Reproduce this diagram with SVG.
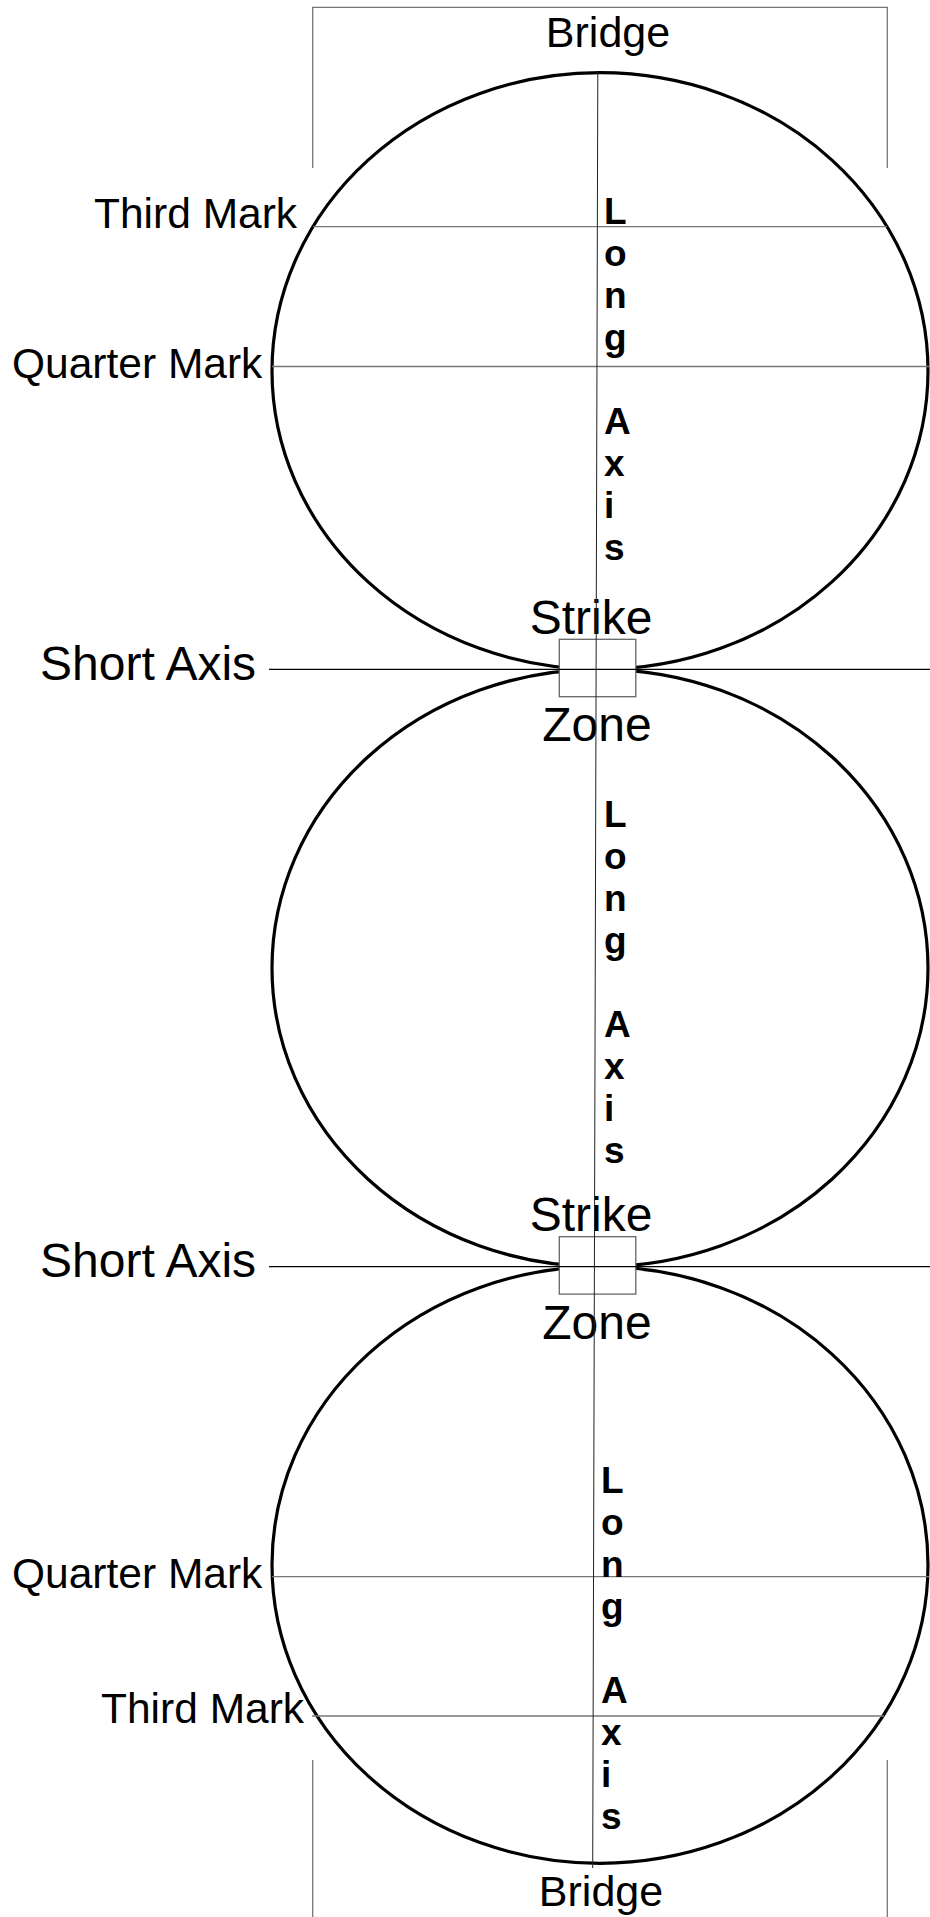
<svg xmlns="http://www.w3.org/2000/svg" width="930" height="1917" viewBox="0 0 930 1917">
  <style>
    .body { fill: none; stroke: #000; stroke-width: 3.2; }
    .mark { stroke: #777; stroke-width: 1.3; fill: none; }
    .axis { stroke: #000; stroke-width: 1.2; fill: none; }
    .long { stroke: #222; stroke-width: 1; fill: none; }
    .zone { fill: #fff; stroke: #666; stroke-width: 1.3; }
    .lbl { font-family: "Liberation Sans", Arial, sans-serif; fill: #000; }
    .big { font-size: 48px; }
    .mid { font-size: 42.5px; }
    .ltr { font-family: "Liberation Sans", Arial, sans-serif; font-weight: bold; font-size: 37px; fill: #000; }
  </style>

  <!-- three stacked ellipses -->
  <g id="ellipse-top"><ellipse class="body" cx="600" cy="371" rx="328" ry="298.3"/></g>
  <g id="ellipse-middle"><ellipse class="body" cx="600" cy="968" rx="328" ry="298.7"/></g>
  <g id="ellipse-bottom"><ellipse class="body" cx="600" cy="1565" rx="328" ry="298.3"/></g>

  <!-- strike zones at the junctions -->
  <g id="strike-zone-1">
    <rect class="zone" x="559.3" y="639.3" width="76.5" height="57.4"/>
    <text class="lbl big" x="591" y="634" text-anchor="middle">Strike</text>
    <text class="lbl big" x="597" y="741" text-anchor="middle">Zone</text>
  </g>
  <g id="strike-zone-2">
    <rect class="zone" x="559.3" y="1236.7" width="76.5" height="57.4"/>
    <text class="lbl big" x="591" y="1231" text-anchor="middle">Strike</text>
    <text class="lbl big" x="597" y="1339" text-anchor="middle">Zone</text>
  </g>

  <!-- reference lines -->
  <g id="lines">
    <!-- bridge brackets -->
    <path class="mark" d="M312.7 168 V7.3 H887.3 V168"/>
    <path class="mark" d="M312.7 1760 V1917 M887.3 1760 V1917"/>
    <!-- third and quarter marks -->
    <line class="mark" x1="313" y1="226.7" x2="887" y2="226.7"/>
    <line class="mark" x1="272" y1="366.5" x2="929" y2="366.5"/>
    <line class="mark" x1="272" y1="1576.7" x2="929" y2="1576.7"/>
    <line class="mark" x1="312" y1="1716" x2="884" y2="1716"/>
    <!-- short axes -->
    <line class="axis" x1="269" y1="669.3" x2="930" y2="669.3"/>
    <line class="axis" x1="269" y1="1266.7" x2="930" y2="1266.7"/>
    <!-- long axis -->
    <line class="long" x1="597.8" y1="72" x2="592.7" y2="1868"/>
  </g>

  <!-- side labels -->
  <g id="label-bridge-top"><text class="lbl" font-size="43" x="608" y="46.7" text-anchor="middle">Bridge</text></g>
  <g id="label-third-top"><text class="lbl mid" x="94" y="228">Third Mark</text></g>
  <g id="label-quarter-top"><text class="lbl mid" x="12" y="378">Quarter Mark</text></g>
  <g id="label-short-1"><text class="lbl big" x="40" y="680">Short Axis</text></g>
  <g id="label-short-2"><text class="lbl big" x="40" y="1277">Short Axis</text></g>
  <g id="label-quarter-bottom"><text class="lbl mid" x="12" y="1588">Quarter Mark</text></g>
  <g id="label-third-bottom"><text class="lbl mid" x="101" y="1723">Third Mark</text></g>
  <g id="label-bridge-bottom"><text class="lbl" font-size="43" x="601" y="1905.7" text-anchor="middle">Bridge</text></g>

  <!-- vertical "Long Axis" captions -->
  <g id="long-axis-1">
    <text class="ltr" x="604" y="224">L</text>
    <text class="ltr" x="604" y="266">o</text>
    <text class="ltr" x="604" y="308">n</text>
    <text class="ltr" x="604" y="350">g</text>
    <text class="ltr" x="604" y="434">A</text>
    <text class="ltr" x="604" y="476">x</text>
    <text class="ltr" x="604" y="518">i</text>
    <text class="ltr" x="604" y="560">s</text>
  </g>
  <g id="long-axis-2">
    <text class="ltr" x="604" y="827">L</text>
    <text class="ltr" x="604" y="869">o</text>
    <text class="ltr" x="604" y="911">n</text>
    <text class="ltr" x="604" y="953">g</text>
    <text class="ltr" x="604" y="1037">A</text>
    <text class="ltr" x="604" y="1079">x</text>
    <text class="ltr" x="604" y="1121">i</text>
    <text class="ltr" x="604" y="1163">s</text>
  </g>
  <g id="long-axis-3">
    <text class="ltr" x="601" y="1493">L</text>
    <text class="ltr" x="601" y="1535">o</text>
    <text class="ltr" x="601" y="1577">n</text>
    <text class="ltr" x="601" y="1619">g</text>
    <text class="ltr" x="601" y="1703">A</text>
    <text class="ltr" x="601" y="1745">x</text>
    <text class="ltr" x="601" y="1787">i</text>
    <text class="ltr" x="601" y="1829">s</text>
  </g>
</svg>
